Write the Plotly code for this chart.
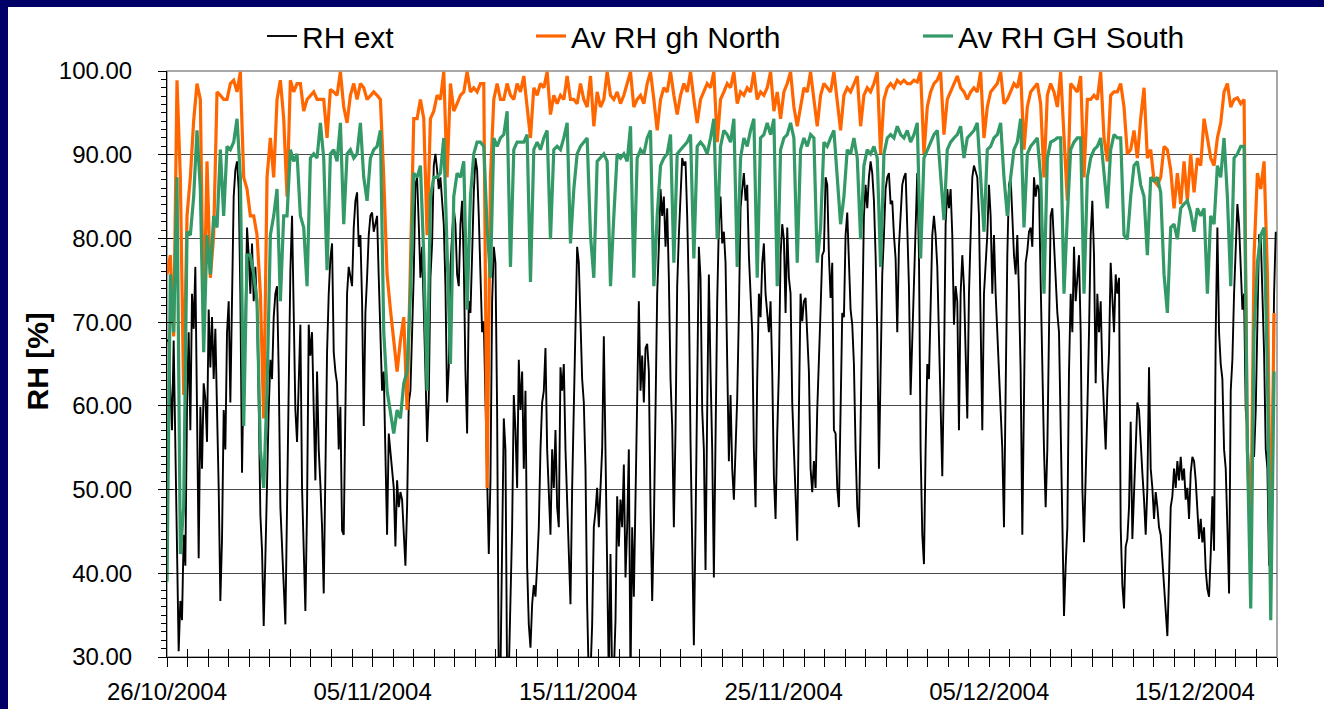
import pandas as pd
import plotly.graph_objects as go

# ---------------- data ----------------
series_names = ["RH ext", "Av RH gh North", "Av RH GH South"]
x_labels_start = "2004-10-26"
x_axis_end = "2004-12-19"
sample_start = "2004-10-26 00:00"
sample_step_seconds = 7008          # logger interval for RH ext (~117 min)

# RH ext, one value per sample
rh_ext = [
    67.8, 67.8, 61.8, 57.1, 67.8, 55.7, 40.0, 30.7, 36.7, 34.4,
    44.6, 40.9, 59.9, 68.8, 57.1, 73.4, 69.2, 76.6, 59.5, 41.8,
    59.9, 52.5, 62.7, 60.9, 55.7, 71.5, 64.6, 70.6, 63.2, 69.2,
    59.5, 50.2, 36.7, 44.1, 59.5, 54.8, 68.8, 72.5, 60.4, 75.3,
    85.0, 88.2, 89.2, 85.9, 73.4, 52.0, 65.0, 69.7, 81.3, 78.0,
    73.4, 79.4, 72.5, 76.6, 71.5, 60.4, 47.0, 42.7, 33.7, 41.8,
    52.0, 59.5, 65.5, 63.2, 70.6, 73.4, 74.3, 64.1, 47.9, 44.1,
    38.6, 33.9, 47.9, 63.2, 76.2, 82.7, 72.5, 59.5, 55.7, 63.2,
    69.7, 50.2, 41.8, 35.5, 47.9, 69.7, 66.0, 68.8, 59.5, 51.1,
    64.1, 54.8, 50.6, 45.5, 37.6, 54.8, 66.4, 73.4, 77.6, 79.4,
    66.4, 64.1, 62.7, 54.8, 59.9, 45.1, 44.6, 59.5, 73.4, 76.6,
    75.3, 74.3, 81.3, 84.5, 85.5, 79.0, 80.4, 72.5, 57.6, 71.1,
    75.3, 80.4, 82.7, 83.1, 80.8, 81.7, 82.7, 75.3,
    68.8, 61.8, 64.1, 54.8, 44.6, 56.7, 54.8, 52.5, 50.2, 43.2,
    51.1, 47.9, 49.7, 48.8, 45.5, 40.9, 47.9, 60.4, 61.8, 68.8,
    75.7, 86.4, 87.3, 81.7, 75.3, 79.0, 72.5, 64.1, 55.7, 60.9,
    75.3, 79.4, 88.7, 90.1, 88.2, 85.9, 87.3, 85.0, 81.7, 74.3,
    60.4, 64.6, 76.6, 80.4, 83.6, 81.7, 75.7, 74.3, 81.7, 84.5,
    77.1, 64.1, 56.7, 72.5, 71.1, 78.0, 85.5, 89.6, 88.2, 82.7,
    76.2, 68.8, 70.1, 59.5, 50.6, 42.3, 51.1, 72.5, 79.0, 77.1,
    59.5, 27.0, 28.0, 40.9, 58.5, 54.8, 27.0, 28.0, 36.3, 45.5,
    61.3, 57.1, 50.2, 65.5, 59.5, 64.1, 52.5, 61.8, 40.9, 33.9,
    31.1, 36.3, 38.6, 37.2, 40.9, 45.5, 54.8, 60.4, 61.8, 66.9,
    54.8, 50.2, 44.6, 54.8, 50.2, 57.1, 47.9, 45.5, 64.6, 61.8,
    65.0, 54.8, 47.9, 43.2, 36.3, 50.2, 59.5, 71.1, 79.0, 77.1,
    71.1, 63.2, 60.4, 52.5, 36.3, 27.0, 28.0, 33.9, 45.5, 47.4,
    50.2, 45.5,
    50.2, 54.8, 68.3, 54.8, 45.5, 27.0, 42.3, 27.0, 28.0, 34.4,
    49.2, 43.2, 48.8, 45.5, 53.0, 39.5, 45.5, 54.8, 27.0, 45.5,
    37.2, 50.2, 62.7, 72.5, 61.8, 66.0, 60.4, 66.9, 67.4, 64.1,
    47.9, 36.7, 45.5, 59.5, 73.4, 79.0, 85.9, 82.7, 85.0, 79.0,
    83.6, 75.3, 63.2, 57.6, 45.5, 57.1, 74.3, 80.4, 84.5, 89.6,
    88.7, 89.2, 82.7, 73.4, 55.7, 40.9, 31.4, 45.5, 64.1, 79.0,
    75.3, 59.5, 54.8, 40.4, 59.5, 75.7, 64.1, 54.8, 39.5, 57.1,
    72.5, 81.7, 85.0, 79.4, 80.8, 77.1, 64.1, 53.4, 61.3, 52.5,
    48.8, 54.8, 60.9, 71.1, 83.6, 85.9, 87.8, 84.5, 86.4, 78.0,
    72.5, 68.8, 54.8, 47.9, 63.2, 73.4, 70.6, 77.1, 79.4, 73.4,
    71.1, 68.8, 72.5, 64.1, 51.6, 46.5, 56.7, 64.1, 78.0, 81.7,
    79.9, 71.1, 81.3, 75.3, 73.4, 60.4, 54.8, 49.7, 43.9, 59.5,
    73.4, 70.1, 72.5, 72.9, 68.8, 64.1, 52.5, 49.7, 53.4, 50.2,
    59.5, 66.9,
    71.5, 78.0, 78.5, 87.3, 86.4, 78.0, 72.9, 77.1, 57.1, 56.7,
    50.2, 47.9, 59.5, 71.1, 70.6, 80.4, 83.1, 78.0, 71.5, 69.7,
    65.0, 54.8, 47.9, 45.5, 59.5, 73.4, 82.7, 86.4, 83.6, 87.3,
    89.2, 87.8, 84.5, 78.0, 68.8, 52.5, 64.1, 75.7, 80.4, 85.9,
    87.3, 87.8, 84.1, 84.5, 80.4, 77.6, 68.8, 79.0, 82.7, 86.4,
    87.3, 87.8, 81.3, 74.3, 61.3, 67.8, 74.3, 79.9, 87.8, 78.0,
    54.8, 44.6, 41.1, 54.8, 65.0, 63.2, 71.1, 80.4, 82.7, 80.4,
    76.6, 68.8, 59.5, 51.6, 64.1, 81.7, 85.9, 83.6, 85.9, 80.4,
    69.7, 74.3, 72.5, 57.1, 73.4, 78.0, 74.3, 65.0, 58.5, 73.4,
    81.7, 87.3, 88.7, 87.8, 87.3, 82.7, 71.1, 57.1, 73.4, 77.1,
    80.4, 86.4, 82.7, 73.4, 80.4, 73.4, 68.8, 64.1, 59.5, 54.8,
    45.5, 64.1, 78.0, 86.4, 87.3, 82.7, 78.0, 75.7, 80.4, 73.4,
    64.1, 44.6, 64.1, 77.1, 78.5, 80.8, 81.3, 79.0, 87.3, 85.0,
    86.4, 85.9,
    74.8, 64.1, 54.8, 47.9, 54.8, 68.8, 82.7, 83.6, 79.0, 75.3,
    71.1, 68.8, 57.1, 50.2, 34.9, 40.9, 45.5, 64.1, 73.4, 68.8,
    79.0, 72.5, 75.7, 78.0, 68.8, 50.2, 43.7, 50.2, 59.5, 68.8,
    80.4, 84.5, 78.0, 62.7, 73.4, 68.8, 72.5, 64.1, 59.5, 54.8,
    61.8, 66.4, 77.1, 73.4, 68.8, 75.7, 73.4, 75.3, 45.5, 38.6,
    35.8, 43.2, 44.1, 47.9, 58.1, 44.1, 50.2, 54.8, 60.4, 59.5,
    54.8, 52.0, 48.8, 44.6, 50.2, 64.6, 52.5, 50.2, 46.5, 49.7,
    47.9, 45.5, 44.6, 41.4, 38.6, 36.3, 32.5, 39.5, 47.9, 49.2,
    52.5, 50.2, 53.4, 51.1, 53.9, 51.1, 52.5, 48.8, 50.2, 46.5,
    52.0, 53.9, 53.4, 51.1, 47.9, 44.1, 46.5, 43.7, 45.5, 40.4,
    38.1, 37.2, 42.3, 49.2, 42.7, 68.8, 81.3, 68.8, 65.0, 63.2,
    54.8, 52.5, 45.5, 37.6, 61.8, 65.5, 73.4, 79.4, 84.1, 81.7,
    75.7, 71.5, 73.4, 59.5, 57.1, 51.1, 43.7, 57.1, 53.9, 59.5,
    68.8, 80.4, 80.4, 72.5, 66.4, 54.8, 52.5, 40.9, 44.6, 57.1,
    73.4, 80.8,
]

# Av RH gh North, one value every second sample
rh_north = [
    75.7, 78.0, 68.3, 98.9, 87.3, 61.3, 82.7, 87.3, 94.1, 98.5,
    96.6, 68.8, 89.2, 75.3, 80.4, 97.5, 97.1, 96.6, 96.6, 98.5,
    98.9, 97.5, 99.9, 87.3, 85.9, 82.7, 82.7, 80.4, 73.4, 58.5,
    87.3, 92.0, 87.3, 96.6, 98.9, 94.3, 85.0, 98.9, 97.5, 98.5,
    98.5, 95.2, 96.6, 97.1, 97.5, 96.6, 96.6, 96.6, 92.0, 97.8,
    97.5, 97.1, 99.9, 95.7, 93.8, 97.1, 98.5, 96.6, 98.5, 98.0,
    96.6, 97.1, 97.5, 97.1,
    96.6, 87.3, 75.7, 71.5, 67.8, 64.1, 67.8, 70.6, 59.5, 77.1,
    94.3, 94.3, 96.6, 94.3, 80.4, 94.3, 95.2, 97.1, 96.6, 99.9,
    87.3, 98.5, 95.2, 96.1, 97.1, 97.5, 99.9, 97.5, 98.0, 97.5,
    98.5, 98.5, 50.2, 87.3, 96.6, 98.5, 96.6, 96.6, 98.5, 97.1,
    96.6, 98.5, 97.5, 99.4, 95.7, 92.0, 98.0, 97.1, 98.5, 98.0,
    99.9, 94.8, 97.1, 96.1, 97.1, 96.6, 99.4, 96.6, 96.6, 96.1,
    98.5, 96.6, 95.7, 99.4, 93.4, 97.5,
    95.7, 96.6, 99.9, 97.1, 96.6, 97.5, 96.1, 97.1, 98.5, 99.9,
    95.7, 96.6, 97.1, 96.1, 98.5, 99.9, 96.6, 92.9, 96.6, 98.0,
    97.5, 99.9, 97.1, 94.8, 97.1, 98.5, 97.5, 99.9, 96.6, 93.8,
    96.6, 97.5, 98.5, 98.0, 99.9, 91.5, 96.6, 97.5, 98.5, 98.0,
    99.9, 96.1, 97.5, 97.1, 98.0, 97.5, 99.9, 96.6, 97.5, 97.1,
    98.0, 99.9, 95.2, 97.5, 94.3, 97.5, 98.5, 99.9, 95.7, 93.4,
    95.7, 98.0, 97.5, 99.9, 96.6, 93.4,
    97.1, 98.5, 98.0, 97.5, 99.9, 96.6, 92.9, 97.1, 98.0, 97.5,
    98.5, 99.4, 93.4, 97.1, 98.0, 97.5, 98.5, 99.9, 90.1, 96.6,
    98.0, 98.5, 98.0, 98.9, 98.5, 98.9, 98.5, 98.5, 98.9, 98.7,
    99.9, 90.1, 95.7, 97.5, 98.5, 98.9, 99.9, 92.4, 96.6, 97.5,
    98.5, 99.4, 98.0, 97.5, 96.6, 97.5, 98.0, 97.5, 99.9, 92.0,
    95.7, 97.5, 98.0, 98.5, 99.9, 96.1, 96.6, 97.5, 98.5, 98.0,
    99.9, 90.6, 95.7, 97.5, 98.0, 98.5,
    96.1, 87.3, 97.1, 98.5, 97.5, 95.7, 99.9, 92.0, 84.5, 98.5,
    98.0, 97.5, 99.4, 87.3, 96.6, 96.6, 97.1, 96.6, 99.9, 92.0,
    89.2, 97.1, 97.5, 97.5, 98.5, 95.7, 90.1, 90.6, 92.9, 89.6,
    94.3, 98.0, 89.6, 90.6, 86.9, 86.4, 87.3, 91.0, 90.6, 88.2,
    83.6, 87.8, 84.1, 89.2, 84.5, 90.1, 85.5, 89.6, 88.7, 94.3,
    92.0, 89.6, 88.7, 92.0, 93.8, 97.5, 98.5, 95.7, 96.6, 96.8,
    96.1, 96.6, 54.8, 43.2, 78.0, 87.8, 85.9, 89.2, 75.7, 40.4,
    71.1,
]

# Av RH GH South, one value every second sample
rh_south = [
    39.0, 75.7, 68.8, 87.3, 42.3, 47.9, 80.8, 80.4, 85.0, 92.9,
    85.9, 66.4, 80.4, 75.7, 82.7, 81.3, 90.6, 82.7, 91.0, 90.6,
    91.5, 94.3, 87.3, 57.6, 78.0, 78.0, 75.7, 72.5, 54.8, 50.2,
    61.8, 80.4, 82.7, 85.9, 72.5, 82.7, 82.7, 90.6, 89.2, 90.1,
    82.7, 81.3, 74.3, 89.6, 90.1, 89.6, 93.8, 89.6, 76.2, 90.1,
    90.6, 89.2, 93.8, 81.7, 90.1, 90.6, 89.6, 90.1, 93.8, 87.3,
    84.5, 89.6, 90.6, 91.0,
    92.9, 68.8, 61.8, 59.5, 56.7, 59.5, 58.5, 62.7, 64.1, 73.4,
    87.8, 87.3, 88.7, 78.0, 61.8, 85.0, 87.3, 87.3, 87.8, 92.0,
    78.0, 65.0, 85.0, 87.8, 87.3, 89.2, 71.5, 85.0, 90.1, 91.5,
    91.5, 91.0, 81.3, 75.3, 92.0, 91.0, 92.0, 92.4, 95.2, 76.6,
    90.6, 91.5, 91.5, 91.5, 92.4, 74.8, 90.6, 91.5, 90.6, 92.0,
    92.9, 79.9, 90.6, 91.0, 90.6, 92.0, 93.8, 79.4, 85.9, 90.1,
    91.0, 91.5, 92.0, 80.4, 75.3, 89.2,
    89.6, 90.1, 89.2, 74.3, 82.7, 90.1, 89.6, 90.1, 89.2, 93.4,
    75.3, 89.6, 90.6, 90.1, 92.0, 92.9, 74.3, 82.7, 88.7, 89.6,
    90.1, 92.4, 77.1, 90.1, 90.6, 91.0, 91.5, 92.4, 77.6, 91.0,
    91.5, 91.0, 90.1, 92.0, 94.3, 79.9, 91.0, 92.9, 92.4, 91.5,
    94.3, 76.6, 89.6, 92.0, 91.0, 92.9, 94.3, 75.3, 92.0, 92.4,
    93.8, 92.4, 94.3, 74.3, 90.6, 92.0, 92.4, 93.8, 92.0, 77.1,
    90.6, 92.0, 91.0, 92.4, 92.0, 77.1,
    81.3, 91.5, 91.0, 92.0, 92.9, 87.3, 81.7, 85.0, 90.6, 90.1,
    92.0, 89.6, 79.9, 88.7, 90.6, 90.1, 91.0, 89.6, 76.6, 90.1,
    92.0, 92.4, 92.0, 93.4, 92.4, 92.0, 92.9, 91.5, 92.4, 93.8,
    77.6, 89.6, 90.6, 91.5, 92.4, 92.9, 87.3, 82.2, 90.6, 91.5,
    92.0, 92.4, 93.4, 89.6, 92.0, 92.4, 92.9, 93.8, 87.3, 80.8,
    90.6, 91.0, 92.0, 92.4, 93.8, 87.3, 82.7, 87.3, 90.6, 91.5,
    94.3, 81.3, 90.1, 91.0, 91.5, 92.0,
    87.3, 73.4, 89.6, 91.5, 91.7, 92.0, 92.0, 73.4, 82.7, 90.6,
    91.5, 92.0, 92.0, 73.4, 87.3, 89.6, 90.6, 91.0, 92.0, 87.3,
    83.6, 90.6, 92.4, 92.0, 92.0, 80.4, 79.9, 85.0, 88.7, 89.2,
    86.4, 85.0, 78.0, 87.3, 86.9, 87.3, 85.5, 75.7, 71.1, 81.3,
    81.7, 79.9, 83.6, 84.1, 84.5, 83.1, 80.8, 83.6, 82.7, 83.6,
    73.4, 82.7, 81.7, 88.7, 87.3, 92.0, 85.0, 74.3, 89.6, 90.1,
    91.0, 91.0, 54.8, 35.8, 68.8, 77.1, 80.4, 81.3, 64.1, 34.4,
    64.1,
]

y_range = [30, 100]

# ---------------- figure ----------------
start = pd.Timestamp(sample_start)
step = pd.Timedelta(seconds=sample_step_seconds)
sample_times = [start + i * step for i in range(len(rh_ext))]
half_times = sample_times[::2]
north_times = half_times[:len(rh_north)]
south_times = half_times[:len(rh_south)]

FONT = "Liberation Sans, Arial, sans-serif"
NAVY = "#000066"
DAY_MS = 86400000

fig = go.Figure()
fig.add_trace(go.Scatter(x=sample_times, y=rh_ext, mode="lines", name=series_names[0],
                         line=dict(color="#000000", width=1.9), legend="legend"))
fig.add_trace(go.Scatter(x=north_times, y=rh_north, mode="lines", name=series_names[1],
                         line=dict(color="#FF6600", width=3.2), legend="legend2"))
fig.add_trace(go.Scatter(x=south_times, y=rh_south, mode="lines", name=series_names[2],
                         line=dict(color="#339966", width=3.2), legend="legend3"))
# empty helper trace carrying the inner half of the crossing tick marks
fig.add_trace(go.Scatter(x=[], y=[], xaxis="x2", yaxis="y2", showlegend=False,
                         hoverinfo="skip"))

L, R, T, B = 167, 47, 71, 52
W, H = 1324, 709
pw, ph = W - L - R, H - T - B

def px_x(px):
    return (px - L) / pw

def px_y(py):
    return (H - B - py) / ph

fig.update_layout(
    width=W, height=H, autosize=False,
    margin=dict(l=L, r=R, t=T, b=B, pad=0, autoexpand=False),
    paper_bgcolor=NAVY, plot_bgcolor="white",
    font=dict(family=FONT, color="black"),
    showlegend=True,
    xaxis=dict(
        type="date", range=[x_labels_start, x_axis_end], automargin=False,
        tick0=x_labels_start, dtick=10 * DAY_MS, tickformat="%d/%m/%Y",
        ticks="outside", ticklen=9, tickwidth=1, tickcolor="black",
        showline=True, linecolor="black", linewidth=1,
        showgrid=False, zeroline=False,
        tickfont=dict(family=FONT, size=24, color="black"),
        ticklabelstandoff=4,
        minor=dict(tick0=x_labels_start, dtick=DAY_MS, ticks="outside", ticklen=9,
                   tickwidth=1, tickcolor="black", showgrid=False),
    ),
    xaxis2=dict(
        type="date", range=[x_labels_start, x_axis_end], overlaying="x", anchor="y2",
        automargin=False,
        tick0=x_labels_start, dtick=DAY_MS, ticks="inside", ticklen=8,
        tickwidth=1, tickcolor="black", showticklabels=False,
        showline=False, showgrid=False, zeroline=False,
    ),
    yaxis=dict(
        range=y_range, dtick=10, tickformat=".2f", automargin=False,
        ticks="outside", ticklen=8, tickwidth=1, tickcolor="black",
        showline=True, linecolor="black", linewidth=1,
        showgrid=True, gridcolor="#4a4a4a", gridwidth=1, zeroline=False,
        tickfont=dict(family=FONT, size=24, color="black"),
        ticklabelstandoff=21,
        minor=dict(dtick=1, ticks="outside", ticklen=5, tickwidth=1,
                   tickcolor="black", showgrid=False),
    ),
    yaxis2=dict(
        range=y_range, overlaying="y", anchor="x2", dtick=10, automargin=False,
        ticks="inside", ticklen=6, tickwidth=1, tickcolor="black",
        showticklabels=False, showline=False, showgrid=False, zeroline=False,
    ),
    shapes=[
        dict(type="rect", xref="paper", yref="paper",
             x0=px_x(8), x1=px_x(W + 200), y0=px_y(H + 200), y1=px_y(7),
             fillcolor="white", line=dict(width=0), layer="below"),
        dict(type="rect", xref="paper", yref="paper", x0=0, x1=1, y0=0, y1=1,
             line=dict(color="#8c8c8c", width=1.5), fillcolor="rgba(0,0,0,0)",
             layer="below"),
    ],
    annotations=[
        dict(text="<b>RH [%]</b>", textangle=-90, xref="paper", yref="paper",
             x=px_x(37.5), y=px_y(362), xanchor="center", yanchor="middle",
             showarrow=False, font=dict(family=FONT, size=30, color="black")),
    ],
    hovermode=False,
)

leg_common = dict(orientation="h", yanchor="middle", xanchor="left",
                  bgcolor="rgba(0,0,0,0)", borderwidth=0,
                  font=dict(family=FONT, size=30, color="black"))
fig.update_layout(
    legend=dict(x=px_x(262), y=px_y(36), **leg_common),
    legend2=dict(x=px_x(531), y=px_y(36), **leg_common),
    legend3=dict(x=px_x(918), y=px_y(36), **leg_common),
)

fig.write_html("out.html", config={"displayModeBar": False},
               post_script="document.body.style.margin='0';document.body.style.overflow='hidden';")
